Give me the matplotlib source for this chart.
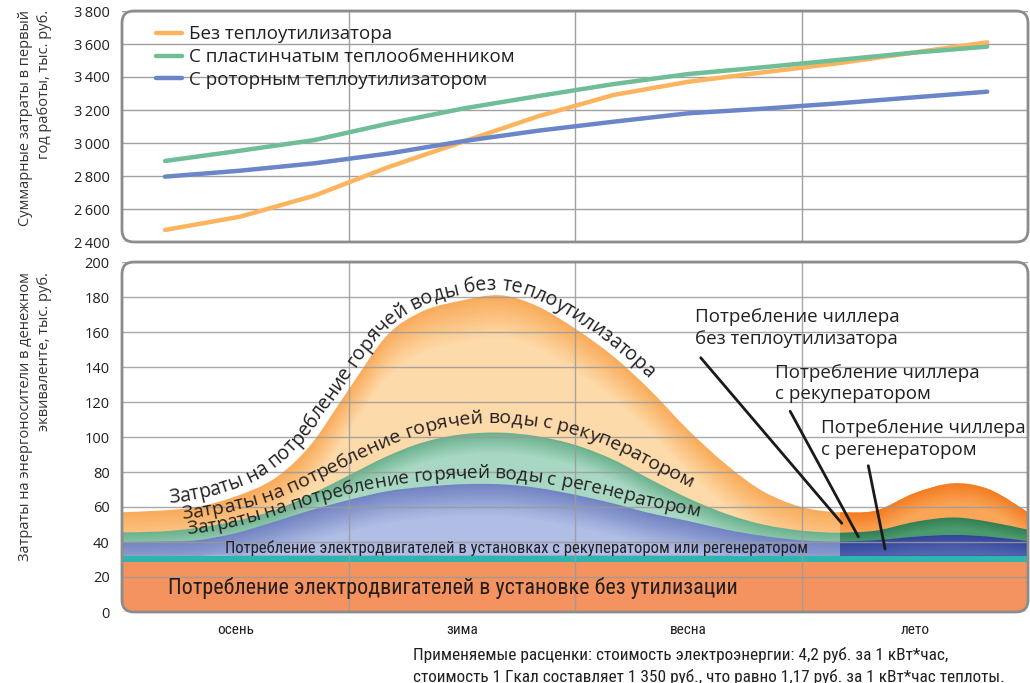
import numpy as np
import matplotlib
matplotlib.use("Agg")
import matplotlib.pyplot as plt
from matplotlib import font_manager
from matplotlib.font_manager import FontProperties
from matplotlib.patches import FancyBboxPatch, PathPatch
from matplotlib.path import Path
from matplotlib.colors import to_rgb
from matplotlib.ticker import FuncFormatter

# ---------------- data: top panel (cumulative costs, first year, thousand rub.)
month_x = [0.19, 0.52, 0.85, 1.18, 1.51, 1.84, 2.17, 2.50, 2.83, 3.16, 3.49, 3.82]
total_none = [2473, 2553, 2681, 2856, 3010, 3163, 3291, 3371, 3428, 3483, 3547, 3610]
total_plate = [2891, 2953, 3018, 3119, 3210, 3285, 3357, 3418, 3459, 3503, 3547, 3584]
total_rotor = [2796, 2832, 2877, 2937, 3012, 3075, 3129, 3180, 3208, 3240, 3276, 3311]
legend_labels = ["Без теплоутилизатора", "С пластинчатым теплообменником",
                 "С роторным теплоутилизатором"]

# ---------------- data: bottom panel (energy costs, thousand rub.)
seasons = ["осень", "зима", "весна", "лето"]
season_edges = [1, 2, 3]
season_x = [0, 0.17, 0.33, 0.5, 0.67, 0.83, 1, 1.17, 1.33, 1.5, 1.67, 1.83, 2,
            2.17, 2.33, 2.5, 2.67, 2.83, 3, 3.17, 3.33, 3.5, 3.67, 3.83, 4]
hot_water_none = [57, 58, 60, 66, 76, 95, 127, 158, 172, 178, 181, 175, 162,
                  146, 127, 104, 84, 69, 60, 57, 58, 68, 73.5, 70, 57]
hot_water_recup = [45.5, 46, 48, 52, 58, 67, 78, 89, 97, 101.5, 102.5, 100.5, 95.5,
                   87, 76, 65, 56, 50, 46.5, 45.3, 46.5, 51.5, 54, 51.5, 47]
hot_water_regen = [40, 40.3, 41, 45, 51.5, 58, 64, 69, 71.5, 73, 73, 71, 67,
                   62, 56.5, 52, 47, 43.5, 41, 40.2, 41, 43, 44, 43, 40.5]
motors_plain = 28.5        # electric motors, unit without heat recovery
teal_top = 32.5
motors_recovery = 40.0     # electric motors, units with recuperator / regenerator
summer_start = 3.17

# ---------------- fonts
names = {f.name for f in font_manager.fontManager.ttflist}
main_font = "Open Sans" if "Open Sans" in names else "DejaVu Sans"
narrow_font = next((f for f in ["Liberation Sans Narrow", "Roboto Condensed",
                                "Open Sans Condensed", "Noto Sans"] if f in names), "DejaVu Sans")
plt.rcParams["font.family"] = [main_font, "DejaVu Sans"]
TXT = "#231f20"

W, H = 1030, 683
fig = plt.figure(figsize=(W / 100, H / 100), dpi=100)
renderer = fig.canvas.get_renderer()


def px_box(l, t, r, b):
    return [l / W, 1 - b / H, (r - l) / W, (b - t) / H]


ax_top = fig.add_axes(px_box(122, 11, 1028, 242))
ax_bot = fig.add_axes(px_box(122, 262, 1028, 612))


def rounded_frame(ax, radius_px=12):
    bb = ax.get_position()
    wpx, hpx = bb.width * W, bb.height * H
    fr = FancyBboxPatch((0, 0), 1, 1, boxstyle=f"round,pad=0,rounding_size={radius_px / wpx}",
                        mutation_aspect=wpx / hpx, transform=ax.transAxes,
                        facecolor="none", edgecolor="#8c8c8c", linewidth=2.0,
                        clip_on=False, zorder=10)
    ax.add_patch(fr)
    for s in ax.spines.values():
        s.set_visible(False)
    return fr


def mix(c1, c2, f):
    a, b = np.array(to_rgb(c1)), np.array(to_rgb(c2))
    return tuple(a + (b - a) * f)


def smooth_area(xs, top, base):
    """Closed path: smooth (Catmull-Rom as cubic Bezier) upper edge through the points, flat bottom."""
    p = np.column_stack([xs, top])
    ext = np.vstack([p[:1], p, p[-1:]])
    verts, codes = [tuple(p[0])], [Path.MOVETO]
    for i in range(len(p) - 1):
        p0, p1, p2, p3 = ext[i], ext[i + 1], ext[i + 2], ext[i + 3]
        verts += [tuple(p1 + (p2 - p0) / 6), tuple(p2 - (p3 - p1) / 6), tuple(p2)]
        codes += [Path.CURVE4] * 3
    verts += [(xs[-1], base), (xs[0], base), (xs[0], base)]
    codes += [Path.LINETO, Path.LINETO, Path.CLOSEPOLY]
    return Path(verts, codes)


def glow_fill(ax, x, base, top, edge, inner, depth, clip, steps=16, z=1):
    top = np.asarray(top, float)
    for i in range(steps + 1):
        f = i / steps
        hi = np.maximum(top - depth * f, base)
        pp = PathPatch(smooth_area(x, hi, base), facecolor=mix(edge, inner, f),
                       lw=0, zorder=z)
        ax.add_patch(pp)
        pp.set_clip_path(clip)


def fit_size(text, family, target_px):
    fp = FontProperties(family=family, size=10)
    w = renderer.get_text_width_height_descent(text, fp, ismath=False)[0]
    return 10 * target_px / w


def chaikin(pts, n=4):
    for _ in range(n):
        q = 0.75 * pts[:-1] + 0.25 * pts[1:]
        r = 0.25 * pts[:-1] + 0.75 * pts[1:]
        new = np.empty((2 * len(q), 2))
        new[0::2], new[1::2] = q, r
        pts = np.vstack([pts[:1], new, pts[-1:]])
    return pts


def curved_label(ax, xs, ys, text, x_from, x_to, offset_px, family=main_font):
    pts = chaikin(ax.transData.transform(np.column_stack([xs, ys])))
    d = np.gradient(pts, axis=0)
    t = d / np.hypot(d[:, 0], d[:, 1])[:, None]
    base = pts + np.column_stack([-t[:, 1], t[:, 0]]) * offset_px
    s = np.concatenate([[0], np.cumsum(np.hypot(*np.diff(base, axis=0).T))])
    s0 = np.interp(ax.transData.transform((x_from, 0))[0], pts[:, 0], s)
    s1 = np.interp(ax.transData.transform((x_to, 0))[0], pts[:, 0], s)
    fp = FontProperties(family=family, size=10)

    def wd(txt):
        return renderer.get_text_width_height_descent(txt, fp, ismath=False)[0]

    nn = wd("nn")
    widths = [wd("n" + ch + "n") - nn for ch in text]
    scale = (s1 - s0) / sum(widths)
    size = 10 * scale
    inv = ax.transData.inverted()
    acc = s0
    for ch, w in zip(text, widths):
        sc = acc + w * scale / 2
        acc += w * scale
        px = np.interp(sc, s, base[:, 0]), np.interp(sc, s, base[:, 1])
        pa = np.interp(sc - 9, s, base[:, 0]), np.interp(sc - 9, s, base[:, 1])
        pb = np.interp(sc + 9, s, base[:, 0]), np.interp(sc + 9, s, base[:, 1])
        ang = np.degrees(np.arctan2(pb[1] - pa[1], pb[0] - pa[0]))
        xd, yd = inv.transform(px)
        ax.text(xd, yd, ch, family=family, size=size, color=TXT, rotation=ang,
                rotation_mode="anchor", ha="center", va="baseline", zorder=8)


# ================= top panel
frame_top = rounded_frame(ax_top)
ax_top.set_xlim(0, 4)
ax_top.set_ylim(2400, 3800)
ax_top.set_yticks(range(2400, 3801, 200))
ax_top.yaxis.set_major_formatter(FuncFormatter(lambda v, p: f"{int(v) // 1000}\u2009{int(v) % 1000:03d}"))
ax_top.set_xticks([])
ax_top.grid(axis="y", color="#a0a0a0", lw=1)
for e in season_edges:
    ax_top.axvline(e, color="#a0a0a0", lw=1, zorder=0.5)
ax_top.tick_params(axis="y", length=0, pad=9, labelsize=10.5, labelcolor=TXT)

l1, = ax_top.plot(month_x, total_none, color="#FDB45F", lw=3.2, solid_capstyle="round", zorder=3)
l3, = ax_top.plot(month_x, total_rotor, color="#6A86C8", lw=3.2, solid_capstyle="round", zorder=3)
l2, = ax_top.plot(month_x, total_plate, color="#6FBE98", lw=3.2, solid_capstyle="round", zorder=3)
ax_top.legend([l1, l2, l3], legend_labels, loc="upper left", bbox_to_anchor=(0.029, 0.97),
              frameon=False, fontsize=13.5, handlelength=1.4, handletextpad=0.35,
              labelspacing=0.25, borderaxespad=0, labelcolor=TXT)

# ================= bottom panel
frame_bot = rounded_frame(ax_bot)
ax_bot.set_xlim(0, 4)
ax_bot.set_ylim(0, 200)
ax_bot.set_yticks(range(0, 201, 20))
ax_bot.set_xticks([0.5, 1.5, 2.5, 3.5])
ax_bot.set_xticklabels(seasons, family=narrow_font, fontsize=11, color=TXT)
ax_bot.tick_params(axis="y", length=0, pad=9, labelsize=10.5, labelcolor=TXT)
ax_bot.tick_params(axis="x", length=0, pad=8)
ax_bot.set_axisbelow(False)
ax_bot.grid(axis="y", color="#9a9a9a", lw=1, alpha=0.85, zorder=4)
for e in season_edges:
    ax_bot.axvline(e, color="#9a9a9a", lw=1, alpha=0.85, zorder=4)

x = np.array(season_x, float)
summer = x >= summer_start - 1e-9
xs_sum = x[summer]

c = ax_bot.fill_between(x, 0, motors_plain, color="#F4935F", lw=0, zorder=1)
c.set_clip_path(frame_bot)
c = ax_bot.fill_between(x, motors_plain, teal_top, color="#2EB5AF", lw=0, zorder=1)
c.set_clip_path(frame_bot)

none_arr = np.array(hot_water_none, float)
recup_arr = np.array(hot_water_recup, float)
regen_arr = np.array(hot_water_regen, float)

# hot water areas (largest first), then summer chiller overlays
glow_fill(ax_bot, x, teal_top, none_arr, "#F9AC5C", "#FDDAA9", 24, frame_bot)
glow_fill(ax_bot, x, teal_top, recup_arr, "#6CB28E", "#A8D8C3", 12, frame_bot)
glow_fill(ax_bot, x, teal_top, np.maximum(regen_arr, motors_recovery),
          "#7284C3", "#B0BEE5", 18, frame_bot)
glow_fill(ax_bot, xs_sum, teal_top, none_arr[summer], "#F47D22", "#F9A659", 12, frame_bot, z=1.5)
glow_fill(ax_bot, xs_sum, teal_top, recup_arr[summer], "#357E56", "#4A9A6D", 6, frame_bot, z=1.6)
glow_fill(ax_bot, xs_sum, teal_top, regen_arr[summer], "#33449A", "#5467B2", 10, frame_bot, z=1.7)

# labels inside the areas
base_txt = "Потребление электродвигателей в установке без утилизации"
ax_bot.text(0.203, 13.5, base_txt, family=narrow_font, color=TXT, va="center", ha="left",
            zorder=8, size=fit_size(base_txt, narrow_font, 569))
rec_txt = "Потребление электродвигателей в установках с рекуператором или регенератором"
ax_bot.text(0.454, 36.5, rec_txt, family=narrow_font, color=TXT, va="center", ha="left",
            zorder=8, size=fit_size(rec_txt, narrow_font, 583))

curved_label(ax_bot, season_x, hot_water_none,
             "Затраты на потребление горячей воды без теплоутилизатора", 0.21, 2.30, 7)
curved_label(ax_bot, season_x, hot_water_recup,
             "Затраты на потребление горячей воды с рекуператором", 0.27, 2.49, 10)
curved_label(ax_bot, season_x, hot_water_regen,
             "Затраты на потребление горячей воды с регенератором", 0.29, 2.54, 6)

# chiller call-outs
chillers = [("Потребление чиллера\nбез теплоутилизатора", (2.529, 162.3), (2.555, 145.3), (3.178, 50.7)),
            ("Потребление чиллера\nс рекуператором", (2.881, 130.6), (2.950, 114.7), (3.251, 43.0)),
            ("Потребление чиллера\nс регенератором", (3.084, 98.9), (3.295, 83.6), (3.369, 36.0))]
for label, pos, start, end in chillers:
    ax_bot.text(pos[0], pos[1], label, fontsize=13.5, color=TXT, ha="left", va="center",
                linespacing=1.25, zorder=8)
    ax_bot.annotate("", xy=end, xytext=start, zorder=8,
                    arrowprops=dict(arrowstyle="-", color="#1a1a1a", lw=2, shrinkA=0, shrinkB=0))

# axis titles
fig.text(18 / W, 1 - 10 / H, "Суммарные затраты в первый\nгод работы, тыс. руб.", rotation=90,
         ha="left", va="top", multialignment="right", fontsize=10.5, color="#333333", linespacing=1.35)
fig.text(18 / W, 1 - 272 / H, "Затраты на энергоносители в денежном\nэквиваленте, тыс. руб.", rotation=90,
         ha="left", va="top", multialignment="right", fontsize=10.5, color="#333333", linespacing=1.35)

note = ("Применяемые расценки: стоимость электроэнергии: 4,2 руб. за 1 кВт*час,\n"
        "стоимость 1 Гкал составляет 1 350 руб., что равно 1,17 руб. за 1 кВт*час теплоты.")
fig.text(413 / W, 1 - 666 / H, note, ha="left", va="center", color=TXT, family=narrow_font,
         size=fit_size(note.split("\n")[1], narrow_font, 590), linespacing=1.4)

fig.savefig("out.png", dpi=100)
